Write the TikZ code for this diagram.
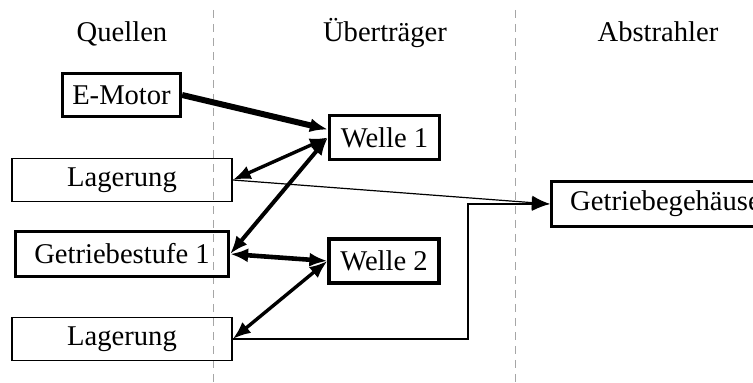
\documentclass[tikz,border=0pt]{standalone}
\usepackage{fontspec}
\setmainfont{Liberation Serif}
\usetikzlibrary{arrows.meta,positioning,calc}

\begin{document}
\begin{tikzpicture}[x=0.5pt,y=-0.5pt,
  every node/.style={font=\fontsize{14.3}{17}\selectfont},
  dick/.style={draw,line width=1.6pt,inner sep=0pt},
  duenn/.style={draw,line width=0.75pt,inner sep=0pt},
  spitze/.style={-{Latex[length=9pt,width=7pt]}},
  beide/.style={{Latex[length=9pt,width=7pt]}-{Latex[length=9pt,width=7pt]}},
  trenn/.style={gray!70,line width=0.5pt,dash pattern=on 4pt off 3pt}]

\useasboundingbox (0,0) rectangle (753,383);

% Spalten
\draw [trenn] (213,10) -- (213,383);
\draw [trenn] (515,10) -- (515,383);

\node [anchor=base] (kopfQ) at (122,42) {Quellen};
\node [anchor=base] (kopfU) at (385,42) {Überträger};
\node [anchor=base] (kopfA) at (658,42) {Abstrahler};

% Quellen
\node [dick, minimum width=59pt, minimum height=21.5pt] (motor) at (121.5,95) {E-Motor};
\node [duenn, minimum width=110pt, minimum height=21.5pt] (lagA) at (122,180) {Lagerung};
\node [dick, minimum width=106.5pt, minimum height=22.5pt] (stufe) at (122,254) {Getriebestufe 1};
\node [duenn, minimum width=110pt, minimum height=21.5pt] (lagB) at (122,339) {Lagerung};

% Uebertraeger
\node [dick, minimum width=55pt, minimum height=22pt] (welle1) at (384.5,137.5) {Welle 1};
\node [dick, minimum width=55pt, minimum height=22pt] (welle2) at (384,261) {Welle 2};

% Abstrahler
\node [dick, minimum width=114pt, minimum height=22.5pt] (gehaeuse) at (665.5,204) {Getriebegehäuse};

\coordinate (knick) at (468,204);

\draw [spitze, line width=3pt] (motor.east) -- ([yshift=4pt]welle1.west);
\draw [beide, line width=1.7pt] (welle1.west) -- (lagA.east);
\draw [beide, line width=2pt] (welle1.west) -- (stufe.east);
\draw [beide, line width=2.3pt] (stufe.east) -- (welle2.west);
\draw [beide, line width=1.7pt] (welle2.west) -- (lagB.east);

\begin{scope}[line width=0.6pt]
\draw [spitze] (lagA.east) -- (gehaeuse.west);
\draw [spitze] (lagB.east) -| (knick) -- (gehaeuse.west);
\end{scope}

\end{tikzpicture}
\end{document}
